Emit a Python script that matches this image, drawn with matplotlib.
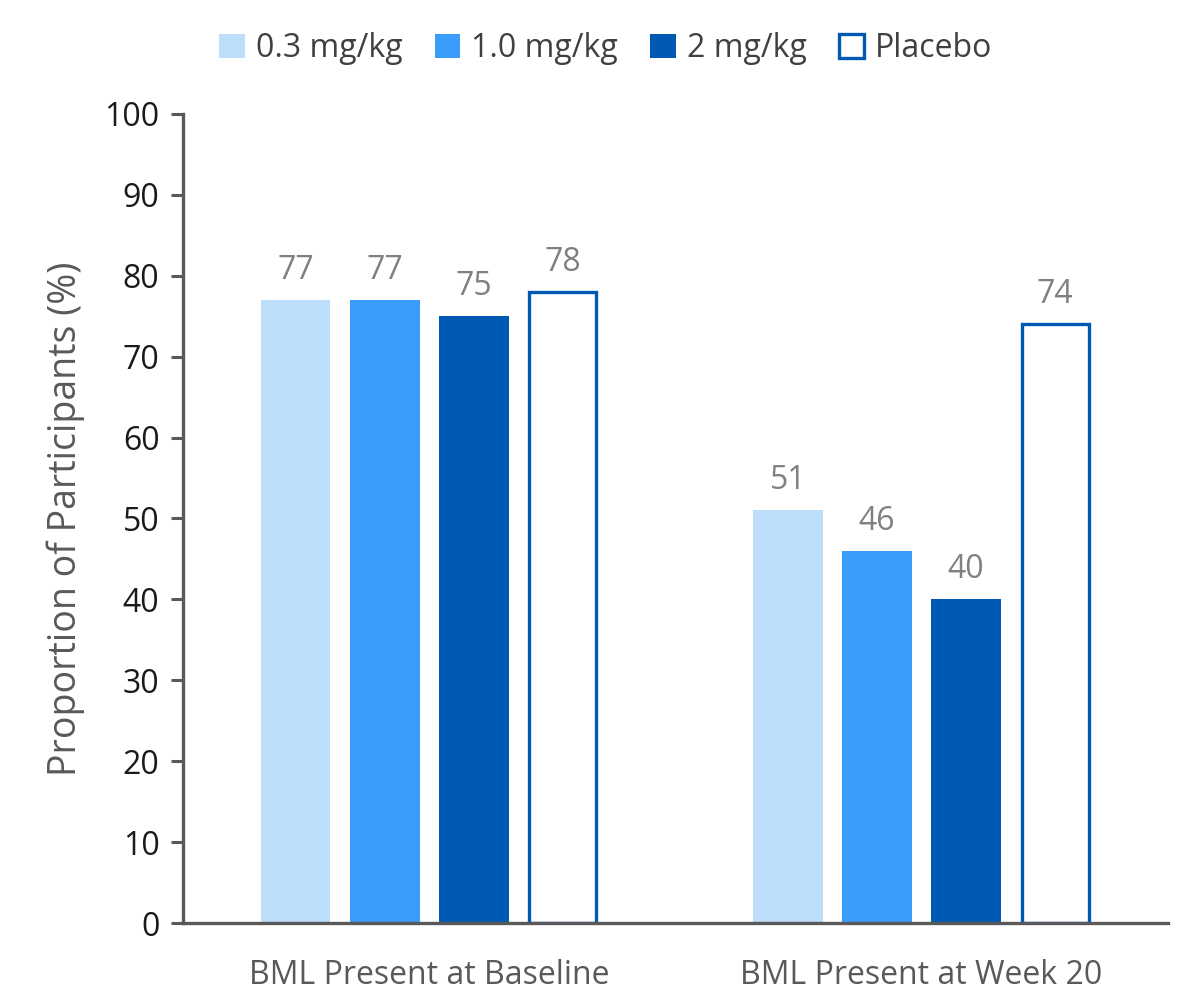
import matplotlib
matplotlib.use("Agg")
import matplotlib.pyplot as plt
from matplotlib.patches import Patch
import numpy as np

plt.rcParams['font.family'] = ['Open Sans', 'DejaVu Sans']

categories = ["BML Present at Baseline", "BML Present at Week 20"]
series_names = ["0.3 mg/kg", "1.0 mg/kg", "2 mg/kg", "Placebo"]
values = {
    "0.3 mg/kg": [77, 51],
    "1.0 mg/kg": [77, 46],
    "2 mg/kg": [75, 40],
    "Placebo": [78, 74],
}
yticks = [0, 10, 20, 30, 40, 50, 60, 70, 80, 90, 100]

fills = ["#BDDEFB", "#3A9CFB", "#0059B3", "white"]
edges = ["#BDDEFB", "#3A9CFB", "#0059B3", "#0059B3"]

fig = plt.figure(figsize=(12, 10.08), dpi=100)
ax = fig.add_axes([0.1525, 0.0843, 0.8205, 0.8027])

x = np.arange(len(categories))
width = 0.142
step = 0.181
offsets = (np.arange(4) - 1.5) * step
for i, name in enumerate(series_names):
    lw = 2.4 if name == "Placebo" else 0
    ax.bar(x + offsets[i], values[name], width=width - (0.006 if lw else 0),
           color=fills[i], edgecolor=edges[i], linewidth=lw, zorder=2)
    for xi, v in zip(x + offsets[i], values[name]):
        ax.text(xi, v + 1.6, f"{v}", ha="center", va="bottom", fontsize=23, color="#808080")

ax.set_xlim(-0.5, 1.5)
ax.set_ylim(0, 100)
ax.set_yticks(yticks)
ax.set_yticklabels([str(t) for t in yticks], fontsize=23, color="#1a1a1a")
ax.set_xticks(x)
ax.set_xticklabels(categories, fontsize=23, color="#595959")
ax.tick_params(axis="x", length=0, pad=26)
ax.tick_params(axis="y", length=9, width=2.2, color="#595959", pad=8)
ax.set_ylabel("Proportion of Participants (%)", fontsize=27, color="#595959", labelpad=14)

for s in ["top", "right"]:
    ax.spines[s].set_visible(False)
for s in ["left", "bottom"]:
    ax.spines[s].set_linewidth(2.4)
    ax.spines[s].set_color("#595959")

handles = [Patch(facecolor=fills[i], edgecolor=edges[i], linewidth=(2.4 if i == 3 else 0), label=series_names[i])
           for i in range(4)]
fig.legend(handles=handles, loc="center", bbox_to_anchor=(0.505, 0.952), ncol=4, frameon=False,
           fontsize=23, handlelength=0.8, handleheight=0.8, handletextpad=0.35, columnspacing=1.0,
           labelcolor="#404040")

fig.savefig("out.png", dpi=100)
